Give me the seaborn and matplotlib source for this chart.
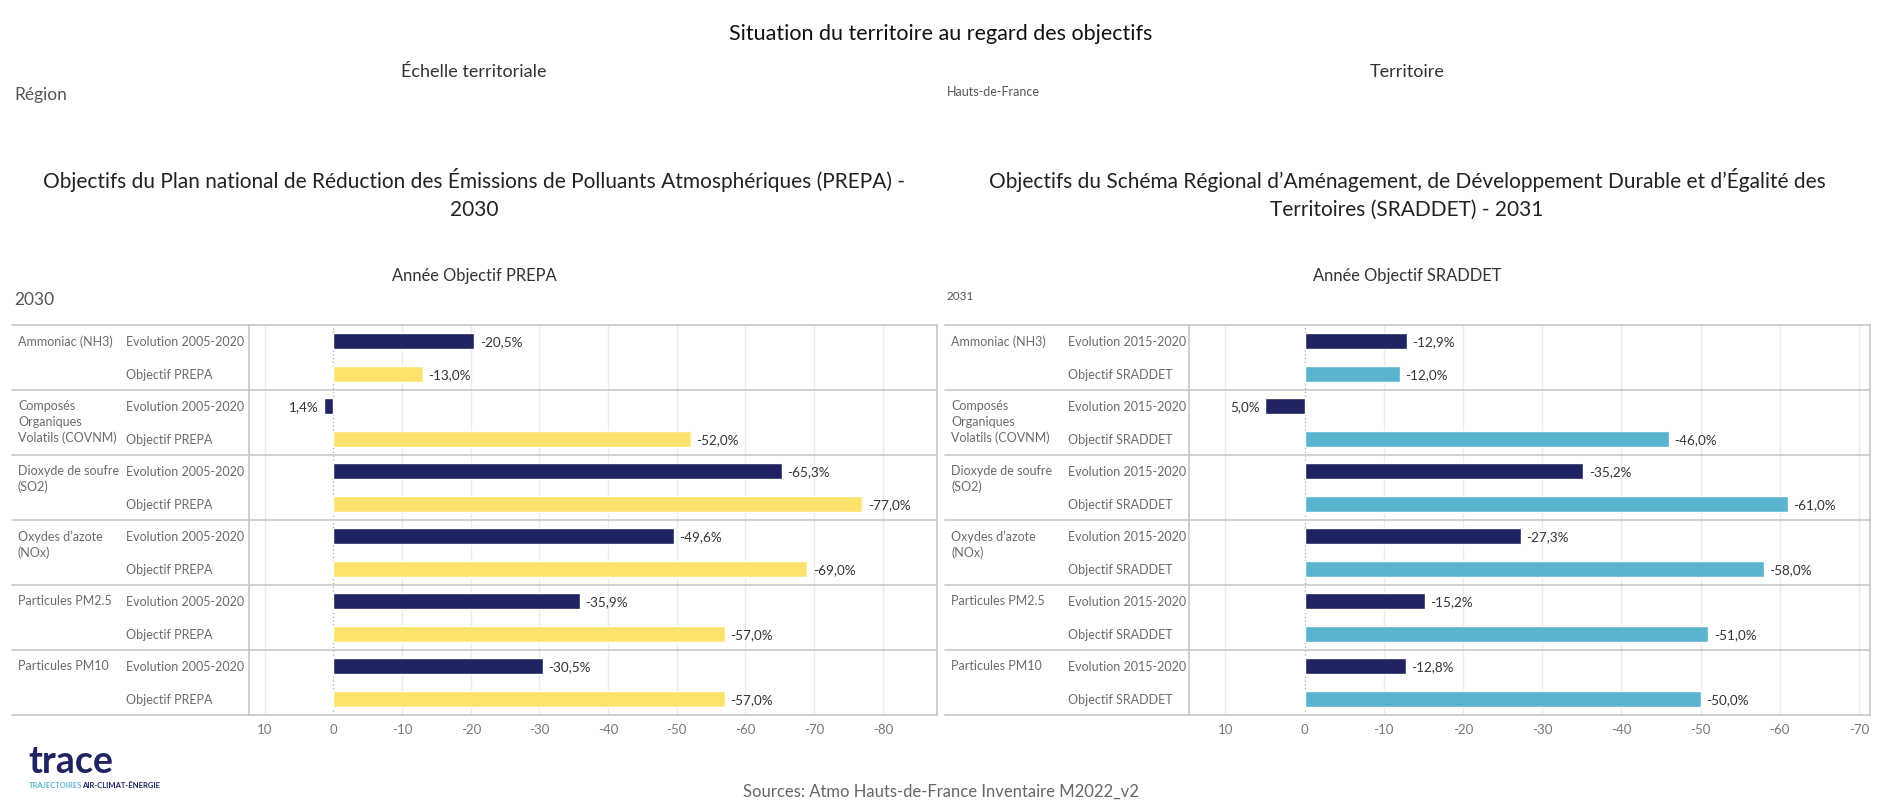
import numpy as np
import pandas as pd
import matplotlib.pyplot as plt
import seaborn as sns
from matplotlib.lines import Line2D
from matplotlib.transforms import blended_transform_factory

# --- data ---
pollutants = ["Ammoniac (NH3)", "Composés\nOrganiques\nVolatils (COVNM)",
              "Dioxyde de soufre\n(SO2)", "Oxydes d’azote\n(NOx)",
              "Particules PM2.5", "Particules PM10"]

prepa_evol = [-20.5, 1.4, -65.3, -49.6, -35.9, -30.5]
prepa_obj = [-13.0, -52.0, -77.0, -69.0, -57.0, -57.0]
sraddet_evol = [-12.9, 5.0, -35.2, -27.3, -15.2, -12.8]
sraddet_obj = [-12.0, -46.0, -61.0, -58.0, -51.0, -50.0]

prepa_ticks = [10, 0, -10, -20, -30, -40, -50, -60, -70, -80]
sraddet_ticks = [10, 0, -10, -20, -30, -40, -50, -60, -70]

NAVY = "#1f2361"
YELLOW = "#fde36e"
BLUE = "#5ab4cf"
GRID = "#ececec"
BORDER = "#c8c8c8"
LABEL = "#6b6b6b"
VALUE = "#333333"

W, H = 1881, 812

sns.set_style("white")
plt.rcParams['font.family'] = ['Lato', 'DejaVu Sans']


def fx(px):
    return px / W


def fy(py):
    return 1 - py / H


def make_df(evol, obj, evol_name, obj_name):
    rows = []
    for i in range(len(pollutants)):
        rows.append({"row": f"{i}_evol", "value": evol[i], "kind": evol_name})
        rows.append({"row": f"{i}_obj", "value": obj[i], "kind": obj_name})
    return pd.DataFrame(rows)


def fmt(v):
    return f"{v:.1f}%".replace(".", ",")


def draw_panel(fig, ax, df, palette, ticks, xlim, outer_left, label_x, right_px):
    sns.barplot(data=df, y="row", x="value", hue="kind", palette=palette,
                dodge=False, width=0.5, orient="h", legend=False, ax=ax,
                saturation=1)
    n = len(df)
    ax.set_ylim(n - 0.5, -0.5)
    ax.set_xlim(*xlim)
    ax.set_xticks(ticks)
    ax.set_xticklabels([str(t) for t in ticks], color="#777777", fontsize=9.5)
    ax.tick_params(axis="x", length=0, pad=6)
    ax.set_yticks([])
    ax.set_xlabel("")
    ax.set_ylabel("")
    ax.set_axisbelow(True)
    for t in ticks:
        if t == 0:
            ax.axvline(0, color="#aaaaaa", lw=0.9, ls=(0, (1, 2)), zorder=0)
        else:
            ax.axvline(t, color=GRID, lw=1, zorder=0)
    for s in ["top", "bottom"]:
        ax.spines[s].set_visible(False)
    for s in ["left", "right"]:
        ax.spines[s].set_color(BORDER)
        ax.spines[s].set_linewidth(1.2)

    # value labels
    for i, v in enumerate(df["value"]):
        off = 4 if v < 0 else -4
        ax.annotate(fmt(v), xy=(v, i), xytext=(off, 0), textcoords="offset points",
                    ha="left" if v < 0 else "right", va="center",
                    fontsize=9.7, color=VALUE)

    trans = blended_transform_factory(fig.transFigure, ax.transData)
    # row separators spanning the whole table
    for b in np.arange(-0.5, n, 2):
        ax.add_line(Line2D([fx(outer_left), fx(right_px)], [b, b], transform=trans,
                           color=BORDER, lw=1.2, clip_on=False))
    # measure labels and pollutant labels
    for i, r in enumerate(df["kind"]):
        ax.text(fx(label_x), i, r, transform=trans, ha="left", va="center",
                fontsize=9, color=LABEL)
    for g, name in enumerate(pollutants):
        ax.annotate(name, xy=(fx(outer_left + 6), 2 * g), xycoords=trans,
                    xytext=(0, 7), textcoords="offset pixels", ha="left", va="top",
                    fontsize=9, color=LABEL, linespacing=1.35)


fig = plt.figure(figsize=(W / 100, H / 100), dpi=100)

# headers
fig.text(0.5, fy(34), "Situation du territoire au regard des objectifs",
         ha="center", va="center", fontsize=15.5, color="#111111")
fig.text(fx(474), fy(72), "Échelle territoriale", ha="center", va="center",
         fontsize=13, color="#333333")
fig.text(fx(1407), fy(72), "Territoire", ha="center", va="center",
         fontsize=13, color="#333333")
fig.text(fx(14), fy(95), "Région", ha="left", va="center", fontsize=12.5, color="#555555")
fig.text(fx(947), fy(92), "Hauts-de-France", ha="left", va="center", fontsize=9,
         color="#555555")

fig.text(fx(474), fy(194),
         "Objectifs du Plan national de Réduction des Émissions de Polluants Atmosphériques (PREPA) -\n2030",
         ha="center", va="center", fontsize=15, color="#222222", linespacing=1.45)
fig.text(fx(1407), fy(194),
         "Objectifs du Schéma Régional d’Aménagement, de Développement Durable et d’Égalité des\nTerritoires (SRADDET) - 2031",
         ha="center", va="center", fontsize=15, color="#222222", linespacing=1.45)

fig.text(fx(474), fy(276), "Année Objectif PREPA", ha="center", va="center",
         fontsize=11.9, color="#333333")
fig.text(fx(1407), fy(276), "Année Objectif SRADDET", ha="center", va="center",
         fontsize=11.9, color="#333333")
fig.text(fx(14), fy(300), "2030", ha="left", va="center", fontsize=12.5, color="#555555")
fig.text(fx(947), fy(296), "2031", ha="left", va="center", fontsize=8.5, color="#555555")

top, bottom = 326, 716
ax1 = fig.add_axes([fx(249), fy(bottom), fx(937 - 249), (bottom - top) / H])
ax2 = fig.add_axes([fx(1189), fy(bottom), fx(1870 - 1189), (bottom - top) / H])

df1 = make_df(prepa_evol, prepa_obj, "Evolution 2005-2020", "Objectif PREPA")
df2 = make_df(sraddet_evol, sraddet_obj, "Evolution 2015-2020", "Objectif SRADDET")

draw_panel(fig, ax1, df1, {"Evolution 2005-2020": NAVY, "Objectif PREPA": YELLOW},
           prepa_ticks, (12.3, -87.9), 12, 126, 937)
draw_panel(fig, ax2, df2, {"Evolution 2015-2020": NAVY, "Objectif SRADDET": BLUE},
           sraddet_ticks, (14.6, -71.4), 945, 1068, 1870)

# footer
fig.text(0.5, fy(792), "Sources: Atmo Hauts-de-France Inventaire M2022_v2",
         ha="center", va="center", fontsize=12, color="#666666")
fig.text(fx(28), fy(762), "trace", ha="left", va="center", fontsize=27,
         fontweight="bold", color=NAVY)
fig.text(fx(29), fy(786), "TRAJECTOIRES", ha="left", va="center", fontsize=5.5,
         fontweight="bold", color=BLUE)
fig.text(fx(82), fy(786), "AIR-CLIMAT-ÉNERGIE", ha="left", va="center", fontsize=5.5,
         fontweight="bold", color=NAVY)

plt.savefig("out.png", dpi=100)
plt.close()
